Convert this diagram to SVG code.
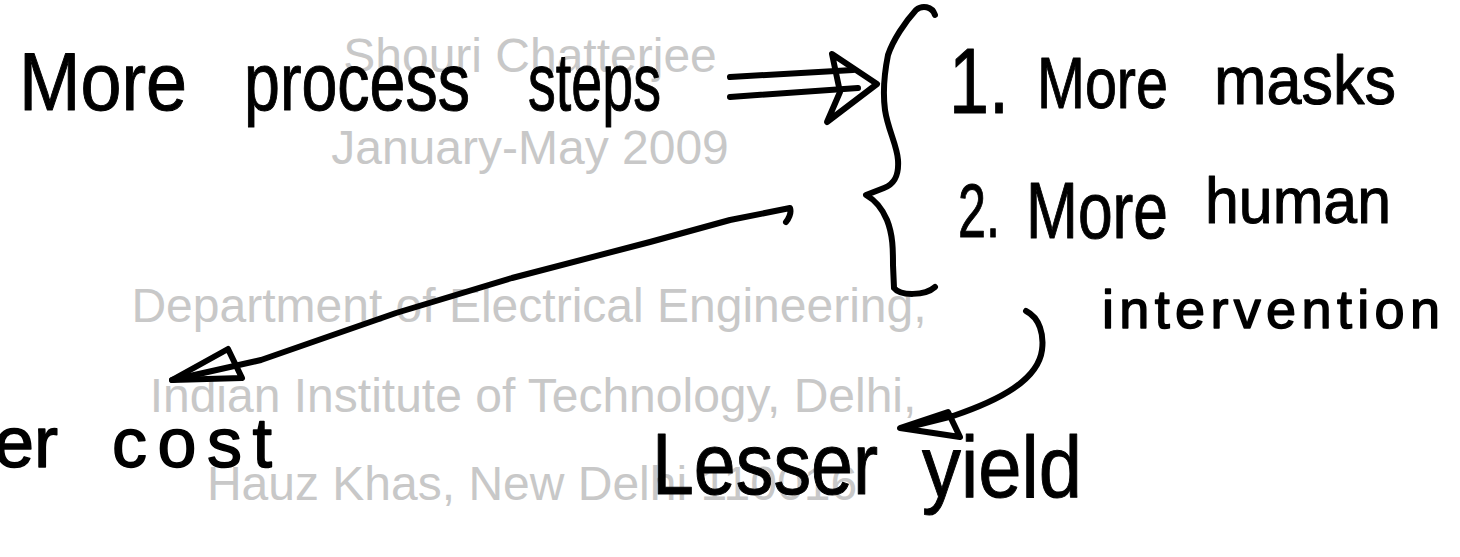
<svg xmlns="http://www.w3.org/2000/svg" width="1460" height="557" viewBox="0 0 1460 557">
<style>
.g{font-family:"Liberation Sans",Arial,sans-serif;font-size:48px;fill:#c8c8c8;text-anchor:middle}
.hw{font-family:"Liberation Sans",Arial,sans-serif;fill:#000;stroke:#000;stroke-width:1;stroke-linejoin:round}
.thin{stroke-width:1.5}
.ln{fill:none;stroke:#000;stroke-width:6;stroke-linecap:round;stroke-linejoin:round}
</style>
<rect width="1460" height="557" fill="#fff"/>
<g id="slide-text">
<text class="g" x="530" y="72">Shouri Chatterjee</text>
<text class="g" x="530" y="164">January-May 2009</text>
<text class="g" x="529" y="322">Department of Electrical Engineering,</text>
<text class="g" x="533" y="412">Indian Institute of Technology, Delhi,</text>
<text class="g" x="532" y="500">Hauz Khas, New Delhi 110016</text>
</g>
<g id="more-process-steps">
<text class="hw" x="19" y="110" font-size="82" textLength="168" lengthAdjust="spacingAndGlyphs">More</text>
<text class="hw" x="244" y="110" font-size="82" textLength="226" lengthAdjust="spacingAndGlyphs">process</text>
<text class="hw" x="528" y="110" font-size="82" textLength="133" lengthAdjust="spacingAndGlyphs">steps</text>
</g>
<g id="brace">
<path class="ln" d="M935,15 C932,6 922,5 916,10 C905,22 893,40 888,55 C884,75 883,95 885,110 C888,130 897,145 898,160 C899,175 895,184 884,188 L866,195 C875,200 882,208 887,220 C893,235 893,250 893,265 L894,288 C900,296 925,296 935,287"/>
</g>
<g id="item-1">
<text class="hw" x="949" y="113" font-size="92" textLength="60" lengthAdjust="spacingAndGlyphs">1.</text>
<text class="hw" x="1037" y="108" font-size="72" textLength="131" lengthAdjust="spacingAndGlyphs">More</text>
<text class="hw" x="1214" y="104" font-size="68" textLength="182" lengthAdjust="spacingAndGlyphs">masks</text>
</g>
<g id="item-2">
<text class="hw" x="958" y="237" font-size="76" textLength="42" lengthAdjust="spacingAndGlyphs">2.</text>
<text class="hw" x="1026" y="238" font-size="80" textLength="142" lengthAdjust="spacingAndGlyphs">More</text>
<text class="hw" x="1205" y="223" font-size="64" textLength="186" lengthAdjust="spacingAndGlyphs">human</text>
<text class="hw thin" x="1102" y="328" font-size="54" textLength="338" lengthAdjust="spacing">intervention</text>
</g>
<g id="higher-cost">
<text class="hw thin" x="-6" y="467" font-size="72">er</text>
<text class="hw thin" x="112" y="467" font-size="70" textLength="160" lengthAdjust="spacing">cost</text>
</g>
<g id="lesser-yield">
<text class="hw" x="652" y="494" font-size="88" textLength="226" lengthAdjust="spacingAndGlyphs">Lesser</text>
<text class="hw" x="922" y="497" font-size="88" textLength="160" lengthAdjust="spacingAndGlyphs">yield</text>
</g>
<g id="connectors">
<path class="ln" d="M730,77 L853,70 M730,97 L858,88"/>
<path class="ln" d="M832,54 L877,84 L827,122 L840,92 Z"/>
<path class="ln" d="M786,222 Q792,214 790,208 L730,220 L650,242 L512,278 L396,313 L261,360 L172,380"/>
<path class="ln" d="M172,380 L228,349 L242,378 Z" fill="#000"/>
<path class="ln" d="M1026,311 C1040,318 1044,335 1042,350 C1038,380 1000,400 953,416 L905,428"/>
<path class="ln" d="M900,428 L948,412 L960,437 Z"/>
</g>
</svg>
